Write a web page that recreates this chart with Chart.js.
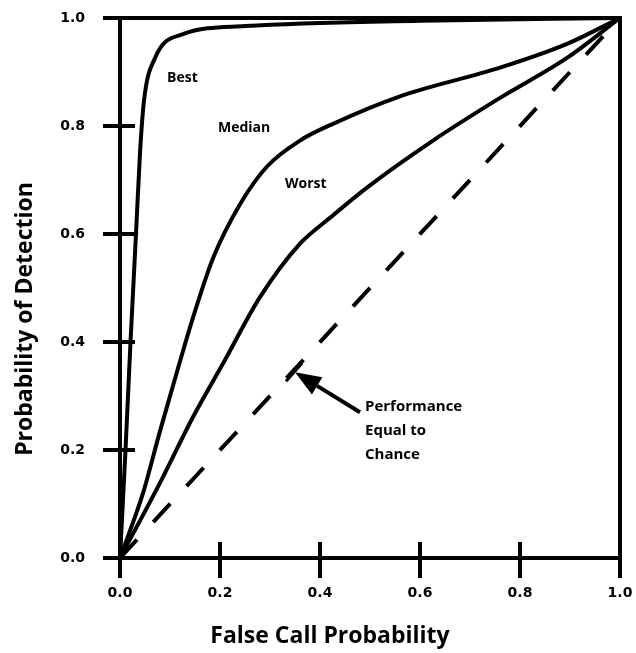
<!DOCTYPE html>
<html>
<head>
<meta charset="utf-8">
<script src="https://cdn.jsdelivr.net/npm/chart.js@4.4.1/dist/chart.umd.min.js"></script>
<style>
  html, body { margin: 0; padding: 0; background: #fff; }
  #wrap { width: 636px; height: 653px; position: relative; }
</style>
</head>
<body>
<div id="wrap"><canvas id="roc-canvas"></canvas></div>
<script>
// ROC curves (x = false call prob, y = detection prob)
const bestX   = [0, 0.011, 0.021, 0.032, 0.040, 0.048, 0.070, 0.126, 0.250, 0.600, 1.0];
const bestY   = [0, 0.200, 0.400, 0.600, 0.750, 0.847, 0.926, 0.970, 0.985, 0.995, 1.0];
const medianX = [0, 0.046, 0.080, 0.114, 0.146, 0.186, 0.240, 0.294, 0.360, 0.426, 0.560, 0.760, 0.894, 1.0];
const medianY = [0, 0.120, 0.235, 0.345, 0.445, 0.555, 0.655, 0.725, 0.773, 0.804, 0.855, 0.908, 0.952, 1.0];
const worstX  = [0, 0.080, 0.146, 0.206, 0.280, 0.360, 0.420, 0.494, 0.626, 0.760, 0.894, 1.0];
const worstY  = [0, 0.139, 0.261, 0.360, 0.483, 0.582, 0.630, 0.686, 0.773, 0.852, 0.926, 1.0];
const chanceX = [0, 1];
const chanceY = [0, 1];
const tickValues = [0, 0.2, 0.4, 0.6, 0.8, 1.0];

// curve labels and annotation (data coords)
const curveLabels = [
    { text: 'Best',   x: 0.094, y: 0.889 },
    { text: 'Median', x: 0.196, y: 0.797 },
    { text: 'Worst',  x: 0.330, y: 0.693 }
];
const noteLines = ['Performance', 'Equal to', 'Chance'];
const noteAt = { x: 0.49, y: 0.281 };
const arrowFrom = { x: 0.480, y: 0.270 };
const arrowTo = { x: 0.350, y: 0.344 };

const toPoints = (xs, ys) => xs.map((x, i) => ({ x: x, y: ys[i] }));

const curveStyle = {
    borderColor: '#000',
    borderWidth: 4,
    pointRadius: 0,
    cubicInterpolationMode: 'monotone',
    borderCapStyle: 'round',
    borderJoinStyle: 'round',
    fill: false,
    clip: false
};

// no extra label padding, the layout padding takes care of it
const fixScale = (scale, w, h) => {
    if (w) scale.width = w;
    if (h) scale.height = h;
    scale.paddingLeft = 0;
    scale.paddingRight = 0;
    scale.paddingTop = 0;
    scale.paddingBottom = 0;
};

// frame, crossing tick marks, text and arrow
const decorations = {
    id: 'decorations',
    afterDatasetsDraw(chart) {
        const c = chart.ctx;
        const xs = chart.scales.x;
        const ys = chart.scales.y;
        const a = chart.chartArea;
        c.save();
        c.strokeStyle = '#000';
        c.fillStyle = '#000';
        c.lineWidth = 4;
        c.lineCap = 'butt';

        // top and right frame lines
        c.beginPath();
        c.moveTo(a.left - 2, a.top);
        c.lineTo(a.right, a.top);
        c.lineTo(a.right, a.bottom + 2);
        c.stroke();

        // tick marks crossing the axes
        tickValues.forEach(v => {
            const px = xs.getPixelForValue(v);
            c.beginPath();
            c.moveTo(px, v === 0 ? a.bottom : a.bottom - 16);
            c.lineTo(px, a.bottom + 20);
            c.stroke();
            const py = ys.getPixelForValue(v);
            c.beginPath();
            c.moveTo(a.left - 17, py);
            c.lineTo(v === 0 ? a.left : a.left + 15, py);
            c.stroke();
        });

        // curve names
        c.font = 'bold 14px "Open Sans"';
        c.textAlign = 'left';
        c.textBaseline = 'middle';
        curveLabels.forEach(l => {
            c.fillText(l.text, xs.getPixelForValue(l.x), ys.getPixelForValue(l.y));
        });

        // note text
        c.font = 'bold 15px "Open Sans"';
        noteLines.forEach((t, i) => {
            c.fillText(t, xs.getPixelForValue(noteAt.x), ys.getPixelForValue(noteAt.y) + i * 24);
        });

        // arrow to the chance line
        const x0 = xs.getPixelForValue(arrowFrom.x), y0 = ys.getPixelForValue(arrowFrom.y);
        const x1 = xs.getPixelForValue(arrowTo.x), y1 = ys.getPixelForValue(arrowTo.y);
        const ang = Math.atan2(y1 - y0, x1 - x0);
        const headLen = 26, headW = 10;
        const bx = x1 - headLen * Math.cos(ang), by = y1 - headLen * Math.sin(ang);
        c.lineWidth = 4;
        c.beginPath();
        c.moveTo(x0, y0);
        c.lineTo(bx, by);
        c.stroke();
        c.beginPath();
        c.moveTo(x1, y1);
        c.lineTo(bx + headW * Math.sin(ang), by - headW * Math.cos(ang));
        c.lineTo(bx - headW * Math.sin(ang), by + headW * Math.cos(ang));
        c.closePath();
        c.fill();
        // small cross mark on the dashed line at the tip
        c.lineWidth = 3;
        c.beginPath();
        c.moveTo(x1 - 9, y1 + 9);
        c.lineTo(x1 + 7, y1 - 9);
        c.stroke();

        // axis titles
        c.font = 'bold 23px "Open Sans"';
        c.textAlign = 'center';
        c.fillText('False Call Probability', 330, 636);
        c.translate(25, 319);
        c.rotate(-Math.PI / 2);
        c.fillText('Probability of Detection', 0, 0);
        c.restore();
    }
};

const tickFont = { family: '"DejaVu Sans"', size: 14, weight: 'bold' };

new Chart(document.getElementById('roc-canvas').getContext('2d'), {
    type: 'line',
    data: {
        datasets: [
            Object.assign({ label: 'Best', data: toPoints(bestX, bestY) }, curveStyle),
            Object.assign({ label: 'Median', data: toPoints(medianX, medianY) }, curveStyle),
            Object.assign({ label: 'Worst', data: toPoints(worstX, worstY) }, curveStyle),
            {
                label: 'Chance',
                data: toPoints(chanceX, chanceY),
                borderColor: '#000',
                borderWidth: 4,
                borderDash: [25, 24],
                pointRadius: 0,
                fill: false,
                clip: false
            }
        ]
    },
    options: {
        responsive: true,
        maintainAspectRatio: false,
        animation: false,
        layout: { padding: { left: 0, right: 16, top: 18, bottom: 0 } },
        plugins: {
            legend: { display: false },
            tooltip: { enabled: false }
        },
        scales: {
            x: {
                type: 'linear',
                min: 0,
                max: 1,
                grid: { display: true, drawOnChartArea: false, drawTicks: false },
                border: { display: true, color: '#000', width: 4 },
                ticks: {
                    stepSize: 0.2,
                    padding: 27,
                    color: '#000',
                    font: tickFont,
                    callback: v => v.toFixed(1)
                },
                afterFit: scale => fixScale(scale, 0, 95)
            },
            y: {
                type: 'linear',
                min: 0,
                max: 1,
                grid: { display: true, drawOnChartArea: false, drawTicks: false },
                border: { display: true, color: '#000', width: 4 },
                ticks: {
                    stepSize: 0.2,
                    padding: 35,
                    color: '#000',
                    font: tickFont,
                    callback: v => v.toFixed(1)
                },
                afterFit: scale => fixScale(scale, 120, 0)
            }
        }
    },
    plugins: [decorations]
});
</script>
</body>
</html>
